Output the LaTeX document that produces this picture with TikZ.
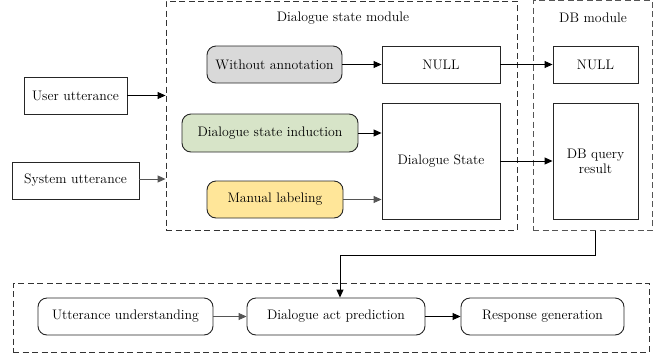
\documentclass[tikz,border=0pt]{standalone}
\usetikzlibrary{arrows.meta,positioning}
\definecolor{wogray}{HTML}{D9D9D9}
\definecolor{dsigreen}{HTML}{D7E4C8}
\definecolor{mlyellow}{HTML}{FFE699}
\definecolor{dgray}{HTML}{555555}
\begin{document}
\begin{tikzpicture}[x=1pt,y=-1pt,
  font=\rmfamily\fontsize{13.8}{16}\selectfont,
  box/.style={draw=black!85, line width=0.9pt, inner sep=2pt, align=center},
  rbox/.style={box, rounded corners=9pt},
  module/.style={draw=black!80, line width=0.9pt, dash pattern=on 6pt off 3.5pt, inner sep=0pt},
  arr/.style={-{Triangle[length=8pt,width=7pt]}, line width=0.9pt, black},
  garr/.style={arr, dgray}
]
\useasboundingbox (0,0) rectangle (662,360);
% module frames
\node[module, minimum width=351pt, minimum height=229pt] (dsm) at (341.5,115.5) {};
\node[module, draw=dgray, minimum width=119pt, minimum height=230pt] (db) at (592.5,115.5) {};
\node[module, minimum width=636pt, minimum height=69pt] (bot) at (331,317.5) {};
\node (dsmt) at (343,18) {Dialogue state module};
\node (dbt) at (593,18) {DB module};
% inputs
\node[box, minimum width=103pt, minimum height=37pt] (user) at (75.5,95.5) {User utterance};
\node[box, minimum width=127pt, minimum height=37pt] (sys) at (75.5,180.5) {System utterance};
% dialogue state module
\node[rbox, fill=wogray, minimum width=135pt, minimum height=37pt] (wo) at (274.5,64.5) {Without annotation};
\node[rbox, fill=dsigreen, minimum width=176pt, minimum height=38pt] (dsi) at (270,133) {Dialogue state induction};
\node[rbox, fill=mlyellow, minimum width=136pt, minimum height=37pt] (ml) at (275,199.5) {Manual labeling};
\node[box, minimum width=118pt, minimum height=37pt] (null1) at (441,64.5) {NULL};
\node[box, minimum width=118pt, minimum height=116pt] (ds) at (441,161) {Dialogue State};
% DB module
\node[box, minimum width=85pt, minimum height=37pt] (null2) at (595.5,64.5) {NULL};
\node[box, minimum width=85pt, minimum height=116pt] (dbq) at (595.5,161) {DB query\\[-1pt]result};
% bottom
\node[rbox, minimum width=175pt, minimum height=37pt] (uu) at (125.5,316.5) {Utterance understanding};
\node[rbox, minimum width=178pt, minimum height=37pt] (dap) at (336,316.5) {Dialogue act prediction};
\node[rbox, minimum width=163pt, minimum height=37pt] (rg) at (542.5,316.5) {Response generation};
% connectors
\draw[arr] (user.east) -- (user.east -| dsm.west);
\draw[garr] ([yshift=1.5pt]sys.east) -- ([yshift=1.5pt]sys.east -| dsm.west);
\draw[arr] (wo.east) -- (null1.west);
\draw[arr] (dsi.east) -- (dsi.east -| ds.west);
\draw[garr] (ml.east) -- (ml.east -| ds.west);
\draw[arr] (null1.east) -- (null2.west);
\draw[arr] (ds.east) -- (dbq.west);
\draw[arr] (dbq.south |- db.south) -- ++(0,24) -| ([xshift=4pt]dap.north);
\draw[garr] (uu.east) -- (dap.west);
\draw[arr] (dap.east) -- (rg.west);
\end{tikzpicture}
\end{document}
